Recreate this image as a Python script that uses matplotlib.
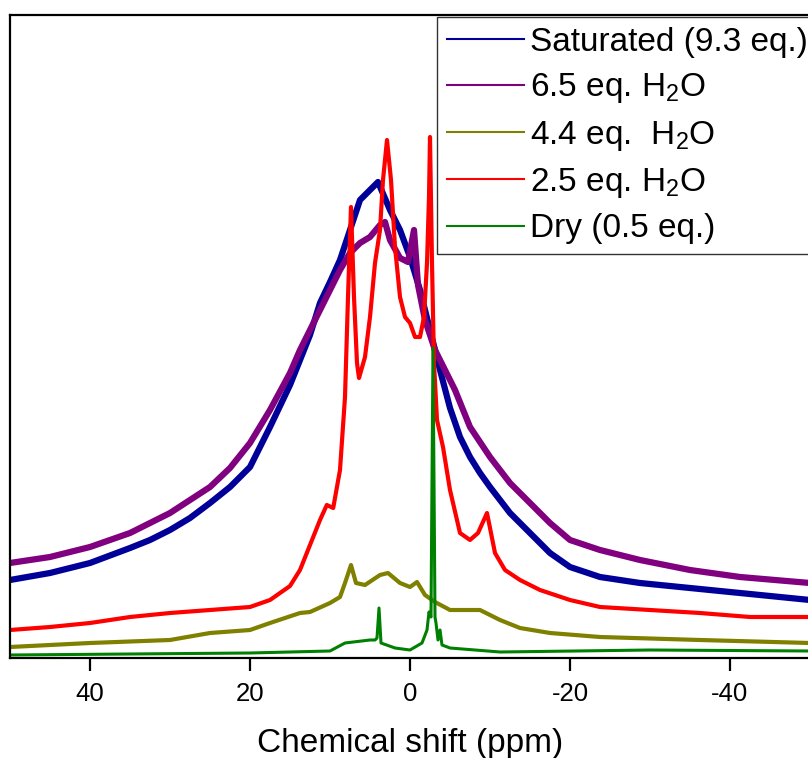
import matplotlib
matplotlib.use("Agg")
import matplotlib.pyplot as plt

plt.rcParams['font.family'] = ['Liberation Sans', 'DejaVu Sans']
plt.rcParams['mathtext.fontset'] = 'custom'
plt.rcParams['mathtext.rm'] = 'Liberation Sans'
plt.rcParams['mathtext.it'] = 'Liberation Sans:italic'

# 2H NMR spectra at different water loadings (ppm, intensity in a.u.)
sat_ppm = [50, 45, 40, 35, 32.5, 30, 27.5, 25, 22.5, 20, 17.5, 15, 13.75, 12.5, 11.25,
           10, 8.75, 7.5, 6.25, 5, 4, 2.5, 1.25, 0, -1.25, -2.5, -3.75, -5, -6.25,
           -7.5, -8.75, -10, -12.5, -15, -17.5, -20, -23.75, -28.75, -35, -41.25, -50]
sat_int = [78, 85, 95, 110, 118, 128, 140, 155, 171, 191, 231, 273, 298, 323, 355,
           376, 398, 428, 458, 468, 476, 448, 428, 401, 368, 328, 288, 250, 221,
           201, 185, 171, 145, 125, 105, 91, 81, 75, 70, 65, 58]

w65_ppm = [50, 45, 40, 35, 30, 27.5, 25, 22.5, 20, 17.5, 15, 13.75, 12.5, 11.25, 8.75,
           7.5, 6.25, 5, 3.75, 3.125, 2.5, 1.25, 0.25, -0.5, -1, -1.875, -3.125,
           -4.375, -5.625, -7.5, -10, -12.5, -15, -17.5, -20, -23.75, -28.75, -35,
           -41.25, -50]
w65_int = [95, 101, 111, 125, 145, 158, 171, 190, 215, 248, 285, 308, 328, 348, 388,
           405, 415, 421, 433, 436, 418, 400, 396, 428, 373, 338, 308,
           288, 268, 231, 201, 175, 155, 135, 118, 108, 98, 88,
           81, 75]

w44_ppm = [50, 40, 30, 25, 20, 17.5, 13.75, 12.5, 10, 8.75, 8.125, 7.375, 6.75, 5.625,
           3.75, 2.75, 1.25, 0, -0.875, -1.875, -3.125, -5, -8.75, -11.25, -13.75,
           -17.5, -23.75, -36.25, -50]
w44_int = [11, 15, 18, 25, 28, 35, 45, 46, 55, 61, 75, 93, 75, 73,
           83, 85, 75, 71, 76, 63, 56, 48, 48, 38, 30,
           25, 21, 18, 15]

w25_ppm = [50, 45, 40, 35, 30, 25, 20, 17.5, 15, 13.75, 12.5, 11.25, 10.4, 9.6, 8.75,
           8.125, 7.75, 7.375, 7, 6.625, 6.375, 5.625, 5, 4.375, 3.75, 3.375, 2.875,
           2.375, 1.875, 1.25, 0.625, 0, -0.625, -1.25, -1.75, -2.125, -2.375, -2.5,
           -2.75, -3, -3.375, -4.125, -5, -6.25, -7.5, -8.5, -9.625, -10.625, -11.875,
           -13.75, -16.25, -20, -23.75, -30, -36.25, -42.5, -50]
w25_int = [28, 31, 35, 41, 45, 48, 51, 58, 72, 88, 113, 138, 153, 150, 188,
           261, 361, 451, 361, 295, 280, 301, 341, 395, 428, 478, 518,
           478, 411, 361, 341, 335, 321, 321, 341, 395, 461, 521,
           395, 295, 238, 211, 168, 125, 118, 125, 145, 105, 88,
           78, 68, 58, 51, 48, 45, 41, 41]

dry_ppm = [50, 20, 10, 8.125, 5, 4.375, 4.125, 3.875, 3.625, 1.875, 0, -1.5, -2.125,
           -2.375, -2.625, -2.875, -3.125, -3.25, -3.5, -3.75, -4, -5, -11.25, -30, -50]
dry_int = [3, 5, 7, 15, 18, 18, 20, 50, 15, 10, 8, 15, 28,
           46, 41, 310, 41, 35, 18, 28, 13, 10, 6, 8, 7]

labels = ['Saturated (9.3 eq.)', '6.5 eq. H$_2$O', '4.4 eq.  H$_2$O',
          '2.5 eq. H$_2$O', 'Dry (0.5 eq.)']
colors = ['#000099', '#800080', '#808000', '#ff0000', '#008000']

fig = plt.figure(figsize=(8.08, 7.58), dpi=100)
ax = fig.add_axes([10 / 808, 100 / 758, 800 / 808, 643 / 758])

series = [(sat_ppm, sat_int), (w65_ppm, w65_int), (w44_ppm, w44_int),
          (w25_ppm, w25_int), (dry_ppm, dry_int)]
# broad, noisy traces are drawn heavier than the sharp ones
widths = [4.5, 4.5, 3.0, 3.0, 2.2]
for (x, y), lab, c, lw in zip(series, labels, colors, widths):
    ax.plot(x, y, color=c, lw=lw, label=lab, solid_joinstyle='round')

ax.set_xlim(50, -50)
ax.set_ylim(0, 643)
ax.set_xticks([40, 20, 0, -20, -40])
ax.set_xticklabels(['40', '20', '0', '-20', '-40'])
ax.set_yticks([])
ax.tick_params(axis='x', direction='out', length=9, width=1.6, labelsize=18.5, pad=8)
for s in ax.spines.values():
    s.set_linewidth(1.6)
ax.set_xlabel('Chemical shift (ppm)', fontsize=24, labelpad=16)

leg = ax.legend(loc='upper left', bbox_to_anchor=(437 / 808, 1 - 17 / 758),
                bbox_transform=fig.transFigure, fontsize=24, frameon=True,
                fancybox=False, edgecolor='black', handlelength=2.3,
                handletextpad=0.2, labelspacing=0.4, borderaxespad=0,
                borderpad=0.3)
leg.get_frame().set_linewidth(1.0)
for line in leg.get_lines():
    line.set_linewidth(1.5)

fig.savefig('out.png', dpi=100)
